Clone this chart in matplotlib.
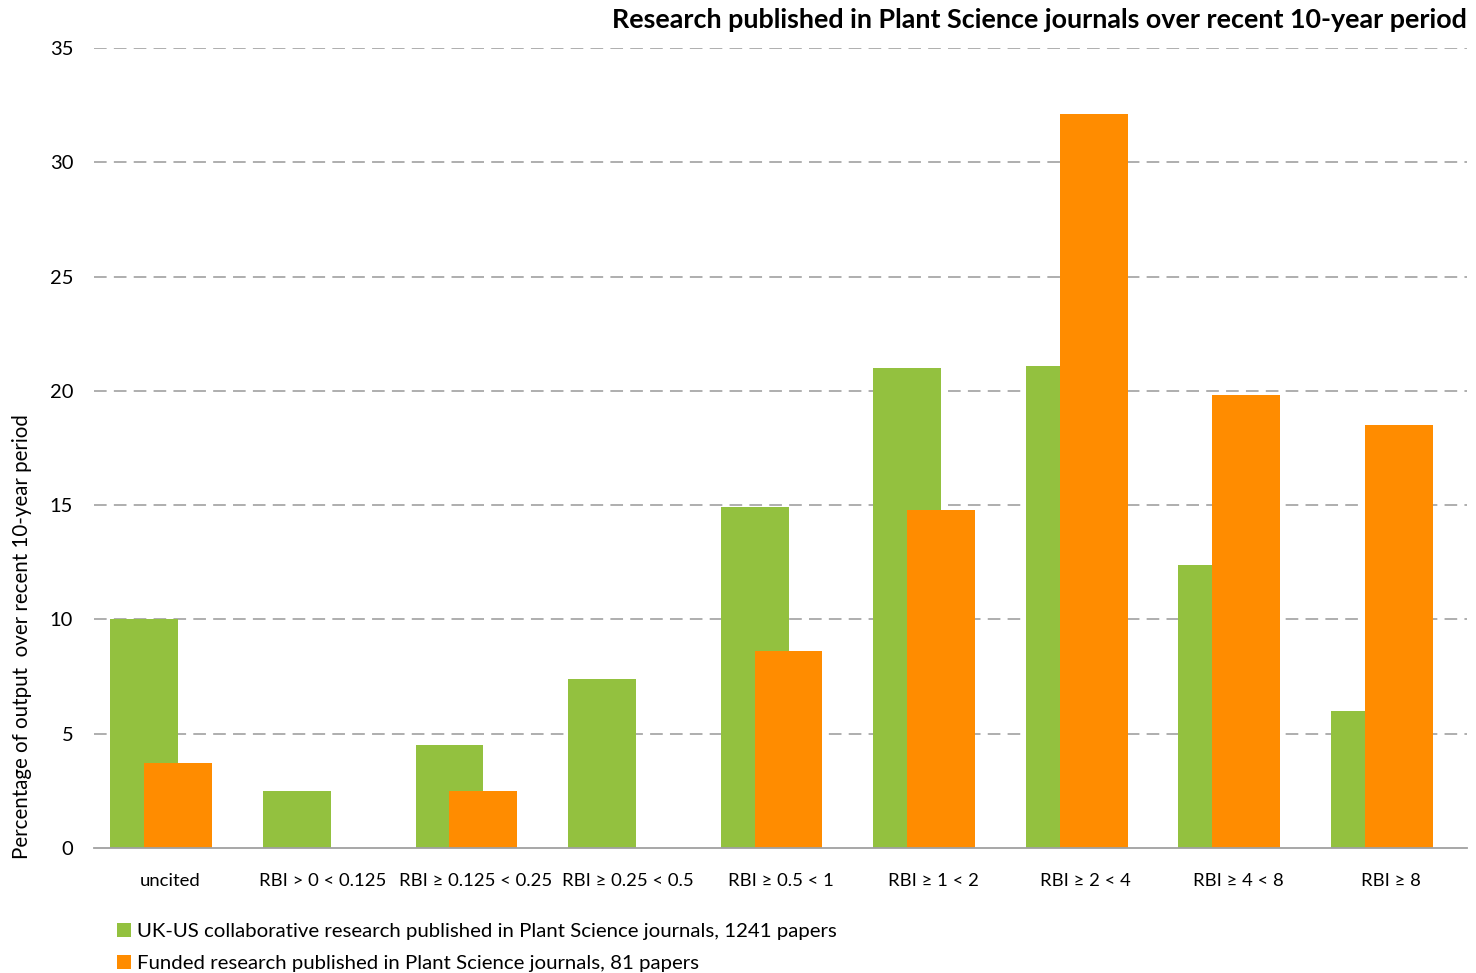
import matplotlib
matplotlib.use("Agg")
import matplotlib.pyplot as plt
import numpy as np

plt.rcParams['font.family'] = ['Lato', 'DejaVu Sans']

categories = ["uncited", "RBI > 0 < 0.125", "RBI \u2265 0.125 < 0.25", "RBI \u2265 0.25 < 0.5",
              "RBI \u2265 0.5 < 1", "RBI \u2265 1 < 2", "RBI \u2265 2 < 4", "RBI \u2265 4 < 8", "RBI \u2265 8"]
ukus_collab = [10.0, 2.5, 4.5, 7.4, 14.9, 21.0, 21.1, 12.4, 6.0]
funded = [3.7, 0.0, 2.5, 0.0, 8.6, 14.8, 32.1, 19.8, 18.5]
series_names = ["UK-US collaborative research published in Plant Science journals, 1241 papers",
                "Funded research published in Plant Science journals, 81 papers"]
title = "Research published in Plant Science journals over recent 10-year period"
ylabel = "Percentage of output  over recent 10-year period"
yticks = [0, 5, 10, 15, 20, 25, 30, 35]

GREEN = "#93C13F"
ORANGE = "#FF8C00"

W, H = 1476, 973
fig = plt.figure(figsize=(W / 100, H / 100), dpi=100)
ax = fig.add_axes([94 / W, 1 - 848 / H, (1467 - 94) / W, 800 / H])

x = np.arange(len(categories))
bw = 0.445
b1 = ax.bar(x - 0.17, ukus_collab, width=bw, color=GREEN, zorder=2)
b2 = ax.bar(x - 0.17 + bw / 2, funded, width=bw, color=ORANGE, zorder=3)

ax.set_xlim(-0.5, len(categories) - 0.5)
ax.set_ylim(0, 35)
ax.set_yticks(yticks)
ax.set_xticks(x)
ax.set_xticklabels(categories)
ax.tick_params(axis='x', length=0, labelsize=13.3, colors='black', pad=18)
ax.tick_params(axis='y', length=0, labelsize=14.5, colors='black', pad=15)

for s in ['top', 'right', 'left']:
    ax.spines[s].set_visible(False)
ax.spines['bottom'].set_color('#a0a0a0')
ax.spines['bottom'].set_linewidth(1.3)
ax.spines['bottom'].set_zorder(4)

for v in yticks[1:]:
    ax.axhline(v, color='#a8a8a8', linestyle=(0, (7, 4)), linewidth=1.3, zorder=1)

fig.text(1467 / W, 1 - 20 / H, title, ha='right', va='center', fontsize=19.4, fontweight='bold')
fig.text(22 / W, 1 - 637 / H, ylabel, rotation=90, ha='center', va='center', fontsize=14.8)

leg = fig.legend([b1, b2], series_names, loc='upper left',
                 bbox_to_anchor=(117 / W, 1 - 923 / H), frameon=False,
                 fontsize=14.7, handlelength=0.7, handleheight=0.7, handletextpad=0.3,
                 labelspacing=0.7, borderaxespad=0, borderpad=0)

fig.savefig("out.png", dpi=100, facecolor='white')
